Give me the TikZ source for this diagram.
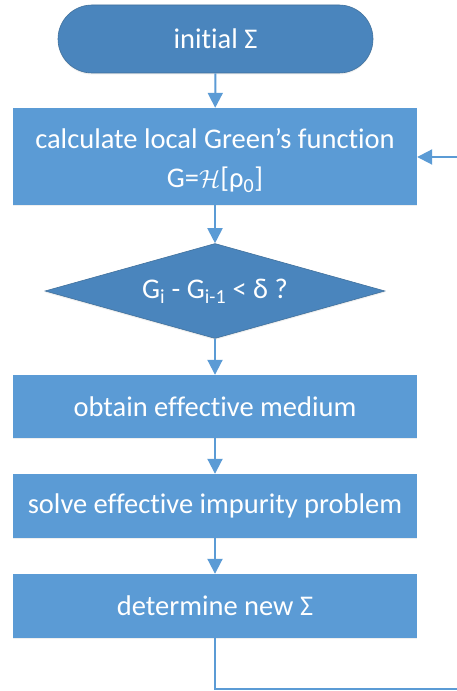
\documentclass[tikz,border=0pt]{standalone}
\usepackage{fontspec}
\setmainfont{Carlito}[Ligatures={NoCommon}]
\usetikzlibrary{shapes.geometric,arrows.meta,shadows}
\definecolor{boxblue}{HTML}{5B9BD5}
\definecolor{darkblue}{HTML}{4A85BD}
\definecolor{edgeblue}{HTML}{41719C}
\tikzset{
  x=1pt, y=1pt,
  every node/.style={text=white, font=\fontsize{28.5}{39}\selectfont, inner sep=0pt},
  soft/.style={drop shadow={opacity=0.12, shadow xshift=0pt, shadow yshift=-1.5pt}},
  process/.style={rectangle, fill=boxblue, soft, minimum width=404pt, align=center},
  terminal/.style={rectangle, rounded corners=34pt, fill=darkblue, draw=edgeblue, line width=0.6pt,
    soft, minimum width=315pt, minimum height=68pt},
  decision/.style={diamond, fill=darkblue, draw=edgeblue, line width=0.6pt, aspect=3.6, soft,
    minimum width=340pt, minimum height=95pt, inner sep=0pt},
  flow/.style={draw=boxblue, line width=2pt, -{Triangle[width=15pt,length=15pt]}},
}
\begin{document}
\begin{tikzpicture}
\clip (0,0) rectangle (457,691);
\fill[white] (0,0) rectangle (457,691);
% start
\node[terminal] (start) at (215.5,652) {initial Σ};
% main loop steps
\node[process, minimum height=97pt] (green) at (215,534.5) {};
\node[align=center] (greentext) at ([yshift=-4pt]green.center)
  {calculate local Green’s function\\G=$\mathcal{H}$[ρ\textsubscript{0}]};
\node[decision] (conv) at (215,400) {G\textsubscript{i} - G\textsubscript{i-1} < δ ?};
\node[process, minimum height=63pt] (medium) at (215,284.5) {obtain effective medium};
\node[process, minimum height=64pt] (impurity) at (215,185) {solve effective impurity problem};
\node[process, minimum height=64pt] (newsigma) at (215,85) {determine new Σ};
% connectors
\draw[flow] (start) -- (green);
\draw[flow] (green) -- (conv);
\draw[flow] (conv) -- (medium);
\draw[flow] (medium) -- (impurity);
\draw[flow] (impurity) -- (newsigma);
\coordinate (loopA) at (215,2);
\coordinate (loopB) at (470,2);
\coordinate (loopC) at (470,534);
\draw[flow] (newsigma.south) -- (loopA) -- (loopB) -- (loopC) -- (green.east |- loopC);
\end{tikzpicture}
\end{document}
